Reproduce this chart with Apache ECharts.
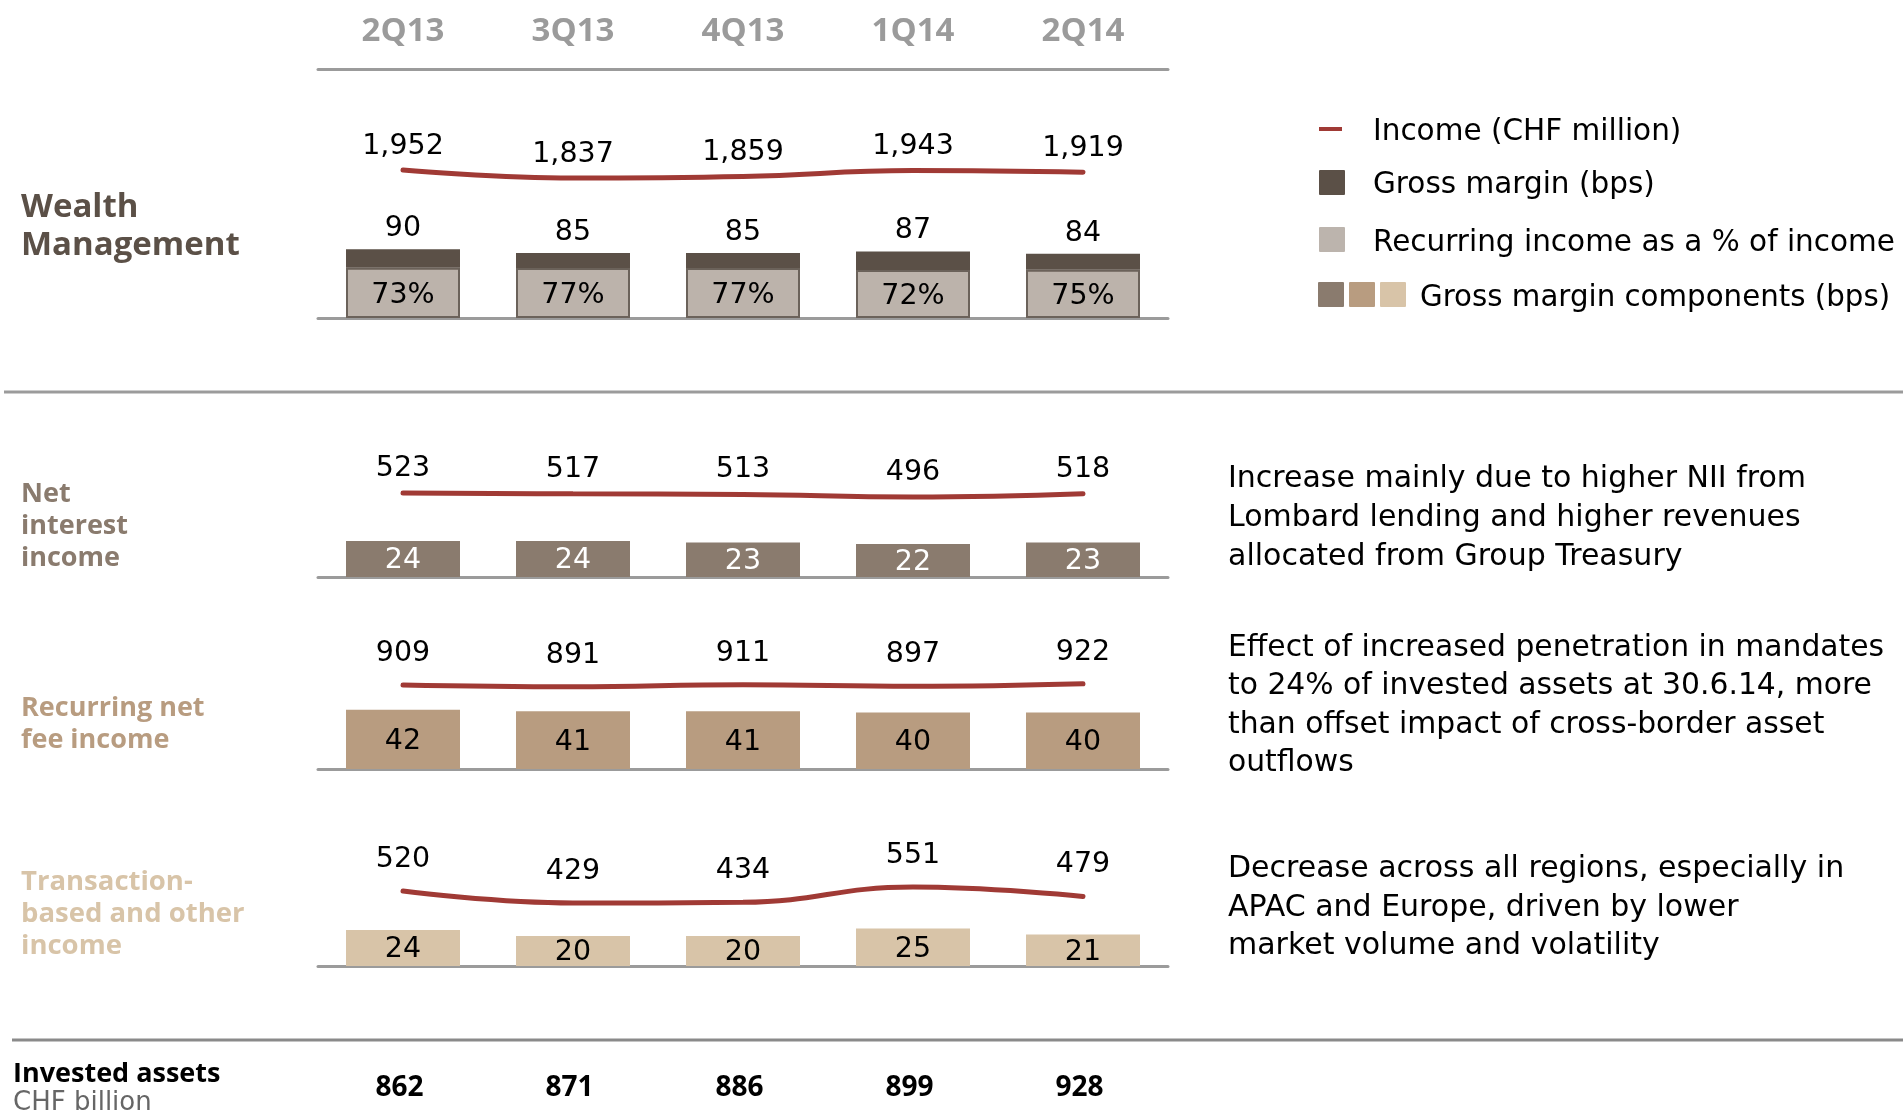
<!DOCTYPE html>
<html>
<head>
<meta charset="utf-8">
<script src="https://cdn.jsdelivr.net/npm/echarts@6/dist/echarts.min.js"></script>
<style>
  html, body { margin: 0; padding: 0; background: #fff; }
  #main { width: 1903px; height: 1110px; }
</style>
</head>
<body>
<div id="main"></div>
<script>
// quarters and values
var quarters = ['2Q13', '3Q13', '4Q13', '1Q14', '2Q14'];
var wmIncome = [1952, 1837, 1859, 1943, 1919];
var wmGrossMargin = [90, 85, 85, 87, 84];
var wmRecurringPct = [73, 77, 77, 72, 75];
var niiIncome = [523, 517, 513, 496, 518];
var niiMargin = [24, 24, 23, 22, 23];
var rnfiIncome = [909, 891, 911, 897, 922];
var rnfiMargin = [42, 41, 41, 40, 40];
var tbiIncome = [520, 429, 434, 551, 479];
var tbiMargin = [24, 20, 20, 25, 21];
var investedAssets = [862, 871, 886, 899, 928];

var FONT = '"DejaVu Sans", "Open Sans", sans-serif';
var BOLD_FONT = '"Open Sans", "Noto Sans", sans-serif';
var RED = '#a03a35';
var AXIS_GREY = '#9b9b9b';
var GRID_LEFT = 318, GRID_W = 850;
var NUM_SIZE = 28.5;

var fmt = function (v) { return v.toLocaleString('en-US'); };

var myChart = echarts.init(document.getElementById('main'));

// one grid per row
var rows = [
    {top: 120, height: 198, barMax: 259, lineMin: -174, lineMax: 2670, labelDist: 9},
    {top: 440, height: 137, barMax: 91.3, lineMin: -45, lineMax: 881, labelDist: 10},
    {top: 630, height: 139, barMax: 98.6, lineMin: 69, lineMax: 1459, labelDist: 17},
    {top: 840, height: 126, barMax: 84, lineMin: -52, lineMax: 910, labelDist: 17}
];

var grids = [{left: GRID_LEFT, width: GRID_W, top: 68, height: 1, outerBoundsMode: 'none'}];
var xAxes = [{
    gridIndex: 0, type: 'category', data: quarters, position: 'top',
    axisLine: {lineStyle: {color: AXIS_GREY, width: 3}},
    axisTick: {show: false},
    axisLabel: {margin: 20, color: AXIS_GREY, fontFamily: BOLD_FONT, fontWeight: 'bold', fontSize: 33}
}];
var yAxes = [{gridIndex: 0, type: 'value', show: false}];

rows.forEach(function (r, i) {
    var g = i + 1;
    grids.push({left: GRID_LEFT, width: GRID_W, top: r.top, height: r.height, outerBoundsMode: 'none'});
    xAxes.push({
        gridIndex: g, type: 'category', data: quarters,
        axisLine: {lineStyle: {color: AXIS_GREY, width: 3}},
        axisTick: {show: false}, axisLabel: {show: false}
    });
    yAxes.push({gridIndex: g, type: 'value', min: 0, max: r.barMax, show: false});
    yAxes.push({gridIndex: g, type: 'value', min: r.lineMin, max: r.lineMax, show: false});
});

// invested assets row
grids.push({left: GRID_LEFT, width: GRID_W, top: 1060, height: 10, outerBoundsMode: 'none'});
xAxes.push({
    gridIndex: 5, type: 'category', data: quarters,
    axisLine: {show: false}, axisTick: {show: false},
    axisLabel: {
        margin: 4, color: '#000', fontFamily: BOLD_FONT, fontWeight: 'bold', fontSize: 28,
        padding: [0, 7, 0, 0],
        formatter: function (v, idx) { return String(investedAssets[idx]); }
    }
});
yAxes.push({gridIndex: 5, type: 'value', show: false});

function incomeLine(g, data, dist) {
    return {
        type: 'line', xAxisIndex: g, yAxisIndex: 2 * g, data: data,
        smooth: 0.45, symbol: 'circle', symbolSize: 0.1,
        itemStyle: {color: 'rgba(0,0,0,0)'},
        lineStyle: {color: RED, width: 5, cap: 'round'},
        label: {
            show: true, position: 'top', distance: dist, color: '#000',
            fontFamily: FONT, fontSize: NUM_SIZE, formatter: function (p) { return fmt(p.value); }
        },
        z: 5
    };
}

function marginBar(g, data, color, textColor) {
    return {
        type: 'bar', xAxisIndex: g, yAxisIndex: 2 * g - 1, data: data, barWidth: 114,
        itemStyle: {color: color},
        label: {show: true, position: 'inside', offset: [0, 2], color: textColor, fontFamily: FONT, fontSize: NUM_SIZE}
    };
}

var wmRecurringPart = wmGrossMargin.map(function (v, i) { return v * wmRecurringPct[i] / 100; });
var wmRestPart = wmGrossMargin.map(function (v, i) { return v - wmRecurringPart[i]; });

var series = [
    {
        type: 'bar', xAxisIndex: 1, yAxisIndex: 1, stack: 'wm', data: wmRecurringPart, barWidth: 114,
        itemStyle: {color: '#bcb3ab', borderColor: '#6b625a', borderWidth: 2},
        label: {
            show: true, position: 'inside', offset: [0, 3], color: '#000', fontFamily: FONT, fontSize: NUM_SIZE,
            formatter: function (p) { return wmRecurringPct[p.dataIndex] + '%'; }
        }
    },
    {
        type: 'bar', xAxisIndex: 1, yAxisIndex: 1, stack: 'wm', data: wmRestPart, barWidth: 114,
        itemStyle: {color: '#5b5047'},
        label: {
            show: true, position: 'top', distance: 6, color: '#000', fontFamily: FONT, fontSize: NUM_SIZE,
            formatter: function (p) { return String(wmGrossMargin[p.dataIndex]); }
        }
    },
    incomeLine(1, wmIncome, rows[0].labelDist),
    marginBar(2, niiMargin, '#8a7b6e', '#fff'),
    incomeLine(2, niiIncome, rows[1].labelDist),
    marginBar(3, rnfiMargin, '#b89c80', '#000'),
    incomeLine(3, rnfiIncome, rows[2].labelDist),
    marginBar(4, tbiMargin, '#d8c4a8', '#000'),
    incomeLine(4, tbiIncome, rows[3].labelDist)
];

function txt(x, y, text, size, color, weight, lh, family) {
    return {
        type: 'text', left: x, top: y,
        style: {text: text, font: (weight || 'normal') + ' ' + size + 'px ' + (family || FONT), fill: color,
                lineHeight: lh || size * 1.3, verticalAlign: 'top'}
    };
}
function box(x, y, color) {
    return {type: 'rect', shape: {x: x, y: y, width: 26, height: 25, r: 1}, style: {fill: color}};
}

var graphics = [
    {type: 'line', shape: {x1: 4, y1: 392, x2: 1903, y2: 392}, style: {stroke: AXIS_GREY, lineWidth: 3}},
    {type: 'line', shape: {x1: 12, y1: 1040, x2: 1903, y2: 1040}, style: {stroke: '#8a8a8a', lineWidth: 3}},
    // row titles
    txt(21, 189, 'Wealth\nManagement', 33, '#5b5047', 'bold', 38, BOLD_FONT),
    txt(21, 478, 'Net\ninterest\nincome', 27, '#8a7b6e', 'bold', 32, BOLD_FONT),
    txt(21, 692, 'Recurring net\nfee income', 27, '#b89c80', 'bold', 32, BOLD_FONT),
    txt(21, 866, 'Transaction-\nbased and other\nincome', 27.5, '#d8c4a8', 'bold', 32, BOLD_FONT),
    txt(13, 1058, 'Invested assets', 27, '#000', 'bold', 32, BOLD_FONT),
    txt(13, 1087, 'CHF billion', 26, '#666', 'normal', 32),
    // legend
    {type: 'line', shape: {x1: 1319, y1: 129, x2: 1342, y2: 129}, style: {stroke: RED, lineWidth: 4}},
    txt(1373, 113, 'Income (CHF million)', 29.5, '#000', 'normal', 38),
    box(1319, 170, '#5b5047'),
    txt(1373, 166, 'Gross margin (bps)', 29.5, '#000', 'normal', 38),
    box(1319, 227, '#bcb4ad'),
    txt(1373, 224, 'Recurring income as a % of income', 29.5, '#000', 'normal', 38),
    box(1318, 282, '#8a7b6e'), box(1349, 282, '#b89c80'), box(1380, 282, '#d8c4a8'),
    txt(1420, 279, 'Gross margin components (bps)', 29.3, '#000', 'normal', 38),
    // comments
    txt(1228, 460, 'Increase mainly due to higher NII from\nLombard lending and higher revenues\nallocated from Group Treasury', 30, '#000', 'normal', 39),
    txt(1228, 629, 'Effect of increased penetration in mandates\nto 24% of invested assets at 30.6.14, more\nthan offset impact of cross-border asset\noutflows', 29.8, '#000', 'normal', 38.5),
    txt(1228, 850, 'Decrease across all regions, especially in\nAPAC and Europe, driven by lower\nmarket volume and volatility', 30, '#000', 'normal', 38.5)
];

myChart.setOption({
    backgroundColor: '#fff',
    animation: false,
    grid: grids,
    xAxis: xAxes,
    yAxis: yAxes,
    series: series,
    graphic: graphics
});
</script>
</body>
</html>
